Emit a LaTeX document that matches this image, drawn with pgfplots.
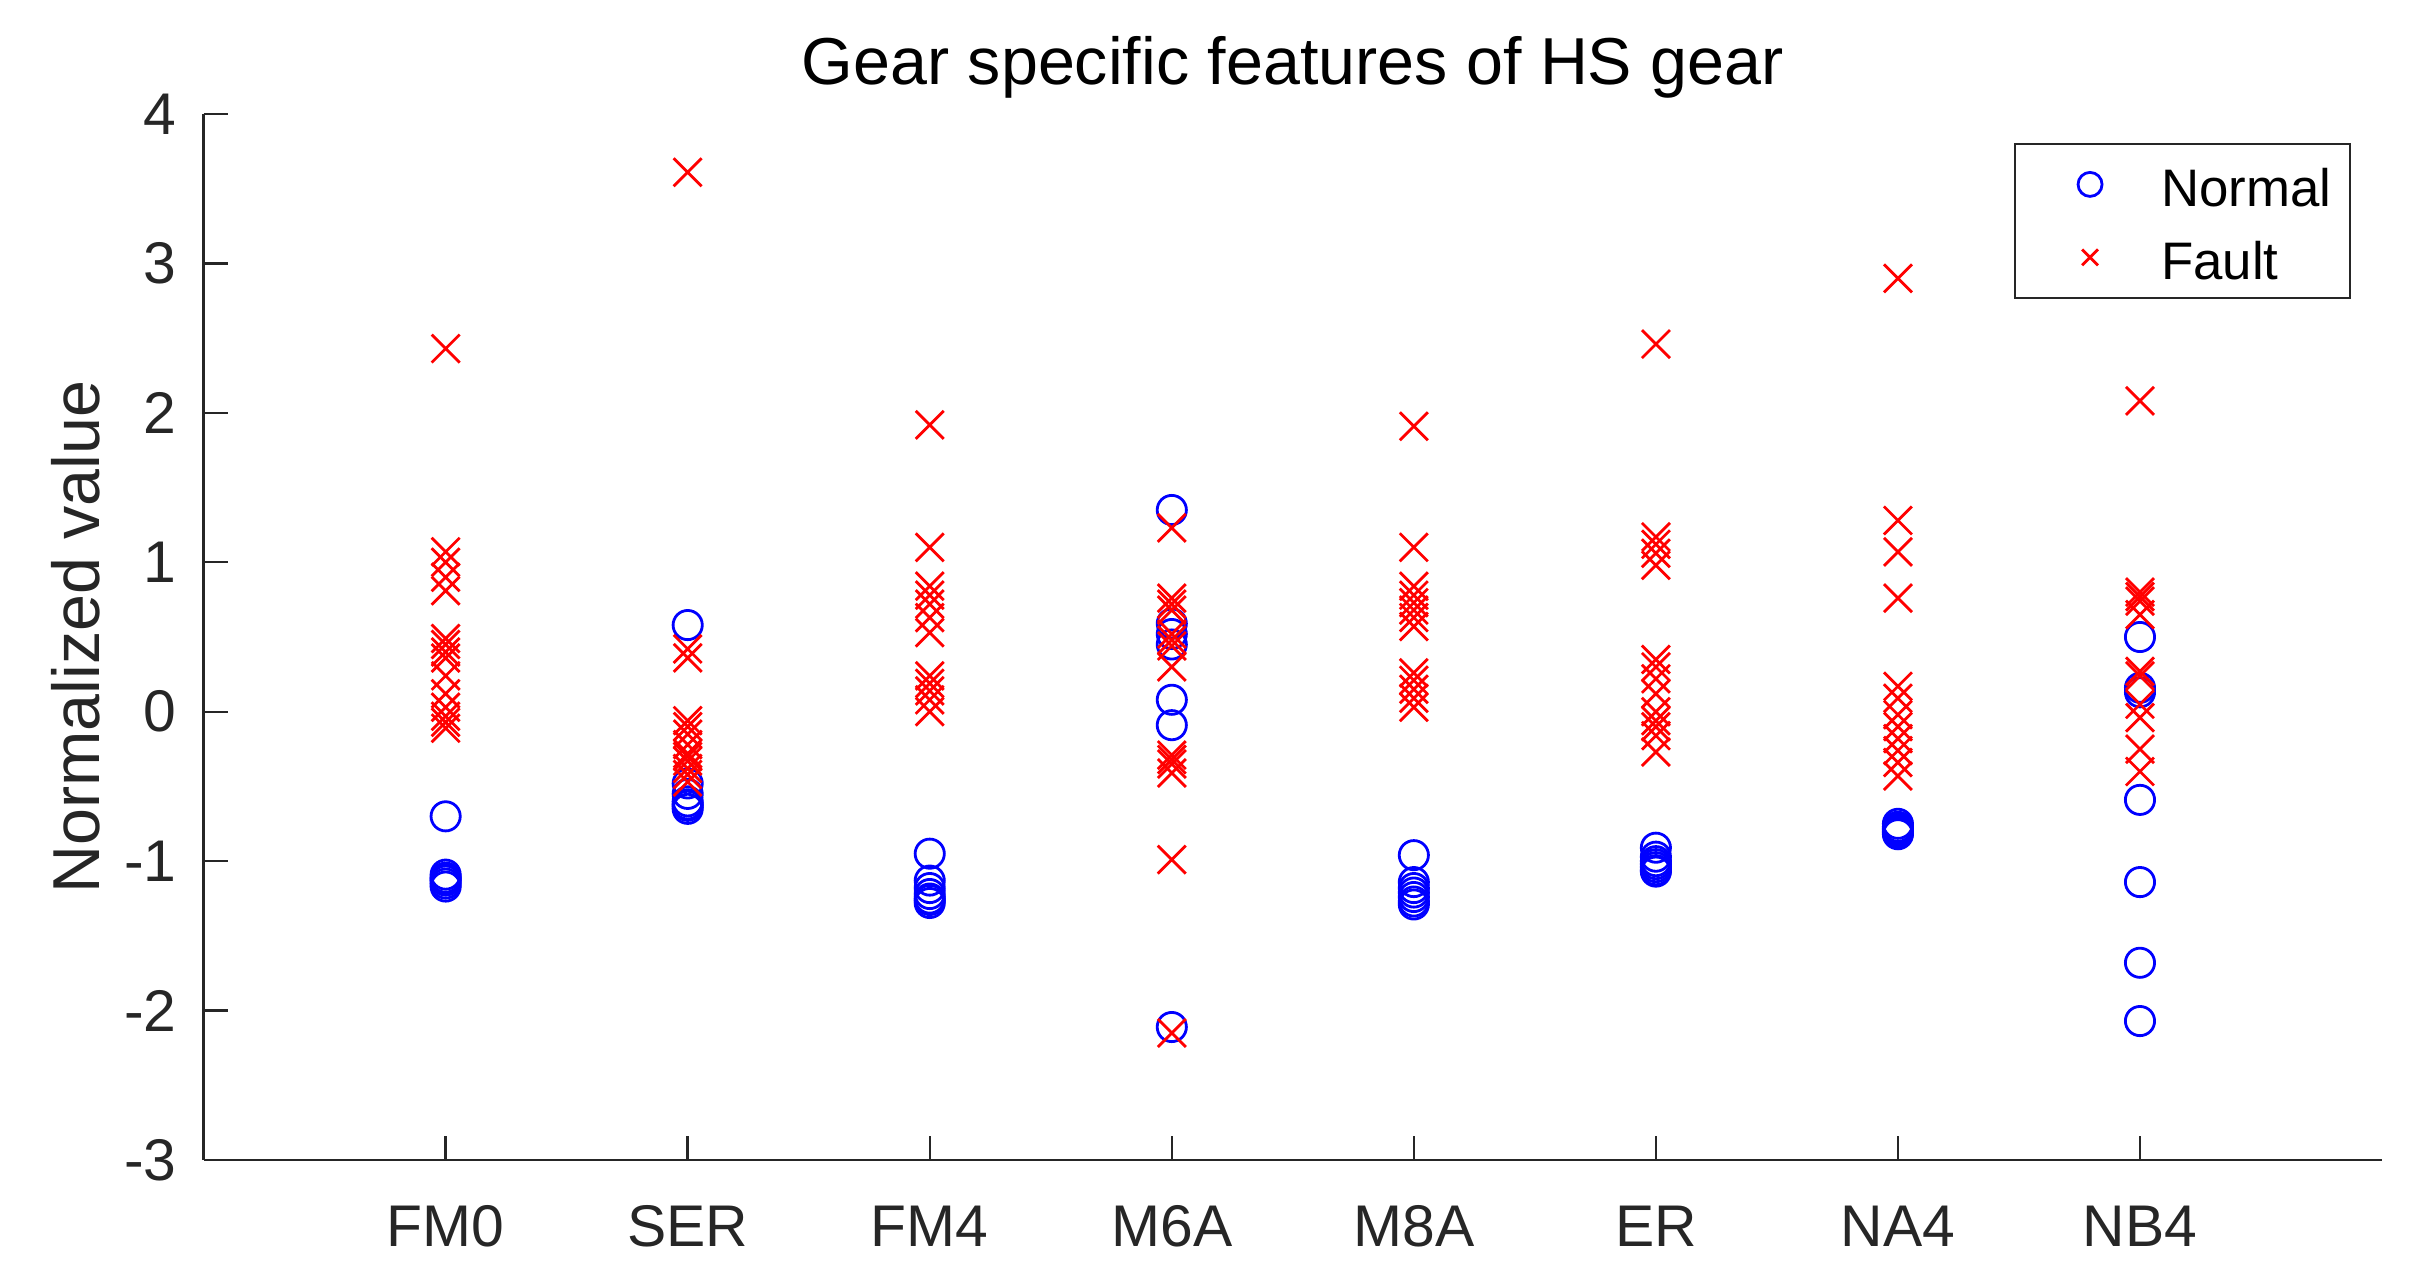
\documentclass[border=0pt]{standalone}
\usepackage{fontspec}
\setmainfont{Liberation Sans}
\usepackage{pgfplots}
\pgfplotsset{compat=1.18}
\usetikzlibrary{calc}
\definecolor{axgray}{RGB}{38,38,38}
\pgfplotsset{
  normleg/.style={legend image code/.code={\path (0pt,0pt) (20pt,0pt); \draw[##1, mark size=3.0pt] plot coordinates {(13.75pt,0pt)};}},
  faultleg/.style={legend image code/.code={\path (0pt,0pt) (20pt,0pt); \draw[##1, mark size=2.8pt] plot coordinates {(13.75pt,0pt)};}},
}

\begin{document}
\begin{tikzpicture}
\begin{axis}[
  scale only axis, width=544.6pt, height=261.5pt,
  xmin=0, xmax=9, ymin=-3, ymax=4,
  xtick={1,2,3,4,5,6,7,8},
  xticklabels={FM0,SER,FM4,M6A,M8A,ER,NA4,NB4},
  ytick={-3,-2,-1,0,1,2,3,4},
  axis x line*=bottom, axis y line*=left,
  axis line style={axgray, line width=0.6pt},
  tick style={axgray, line width=0.6pt},
  tick align=inside, major tick length=6pt,
  /pgf/number format/assume math mode=true,
  ticklabel style={font=\fontsize{14.7}{17}\selectfont, text=axgray},
  xticklabel style={anchor=base, inner sep=0pt, yshift=-21.5pt},
  yticklabel style={anchor=east, inner sep=0pt, xshift=-6.6pt},
  title={Gear specific features of HS gear},
  title style={at={(axis description cs:0.5,1)}, anchor=base, yshift=1.25pt, inner sep=0pt, font=\fontsize{16.6}{20}\selectfont},
  ylabel={Normalized value},
  ylabel style={at={(axis description cs:-0.0479,0.5)}, anchor=base, inner sep=0pt, font=\fontsize{16.6}{20}\selectfont, text=axgray},
  legend cell align=left,
  legend style={at={(axis description cs:1,1)}, anchor=north east, xshift=-7.8pt, yshift=-7.3pt,
    draw=axgray, line width=0.5pt, fill=white, inner xsep=4.6pt, inner ysep=3.55pt,
    row sep=5.25pt, column sep=11.2pt,
    nodes={inner sep=0pt, text height=12pt, text depth=1pt, font=\fontsize{13.2}{16}\selectfont}},
]
\addplot[only marks, mark=o, color=blue, mark size=3.65pt, line width=0.7pt, normleg]
  table[row sep=\\] {
x y \\
1 -0.70 \\ 1 -1.09 \\ 1 -1.11 \\ 1 -1.13 \\ 1 -1.15 \\ 1 -1.17 \\ 1 -1.12 \\
2 0.58 \\ 2 -0.48 \\ 2 -0.55 \\ 2 -0.60 \\ 2 -0.63 \\ 2 -0.65 \\ 2 -0.62 \\
3 -0.95 \\ 3 -1.13 \\ 3 -1.18 \\ 3 -1.22 \\ 3 -1.25 \\ 3 -1.28 \\ 3 -1.26 \\
4 1.35 \\ 4 0.59 \\ 4 0.52 \\ 4 0.45 \\ 4 0.08 \\ 4 -0.09 \\ 4 -2.11 \\
5 -0.96 \\ 5 -1.14 \\ 5 -1.18 \\ 5 -1.21 \\ 5 -1.24 \\ 5 -1.27 \\ 5 -1.29 \\
6 -0.91 \\ 6 -0.97 \\ 6 -1.00 \\ 6 -1.02 \\ 6 -1.04 \\ 6 -1.06 \\ 6 -1.07 \\
7 -0.75 \\ 7 -0.77 \\ 7 -0.78 \\ 7 -0.79 \\ 7 -0.80 \\ 7 -0.81 \\ 7 -0.82 \\
8 0.50 \\ 8 0.16 \\ 8 0.13 \\ 8 -0.59 \\ 8 -1.14 \\ 8 -1.68 \\ 8 -2.07 \\
};
\addlegendentry{Normal}
\addplot[only marks, mark=x, color=red, mark size=4.95pt, line width=0.7pt, faultleg]
  table[row sep=\\] {
x y \\
1 2.43 \\ 1 1.07 \\ 1 1.00 \\ 1 0.90 \\ 1 0.81 \\ 1 0.49 \\ 1 0.45 \\ 1 0.40 \\ 1 0.36 \\ 1 0.24 \\ 1 0.12 \\ 1 0.03 \\ 1 -0.03 \\ 1 -0.07 \\ 1 -0.11 \\
2 3.61 \\ 2 0.42 \\ 2 0.36 \\ 2 -0.06 \\ 2 -0.10 \\ 2 -0.15 \\ 2 -0.22 \\ 2 -0.28 \\ 2 -0.33 \\ 2 -0.38 \\ 2 -0.42 \\ 2 -0.47 \\ 2 -0.30 \\
3 1.92 \\ 3 1.10 \\ 3 0.84 \\ 3 0.78 \\ 3 0.72 \\ 3 0.63 \\ 3 0.53 \\ 3 0.24 \\ 3 0.19 \\ 3 0.14 \\ 3 0.08 \\ 3 0.00 \\
4 1.23 \\ 4 0.76 \\ 4 0.72 \\ 4 0.68 \\ 4 0.52 \\ 4 0.48 \\ 4 0.44 \\ 4 0.30 \\ 4 -0.29 \\ 4 -0.32 \\ 4 -0.35 \\ 4 -0.41 \\ 4 -0.99 \\ 4 -2.15 \\
5 1.91 \\ 5 1.10 \\ 5 0.84 \\ 5 0.78 \\ 5 0.73 \\ 5 0.68 \\ 5 0.63 \\ 5 0.57 \\ 5 0.26 \\ 5 0.21 \\ 5 0.15 \\ 5 0.09 \\ 5 0.03 \\
6 2.46 \\ 6 1.17 \\ 6 1.12 \\ 6 1.06 \\ 6 0.98 \\ 6 0.35 \\ 6 0.30 \\ 6 0.22 \\ 6 0.12 \\ 6 0.00 \\ 6 -0.06 \\ 6 -0.10 \\ 6 -0.16 \\ 6 -0.27 \\
7 2.90 \\ 7 1.28 \\ 7 1.07 \\ 7 0.76 \\ 7 0.17 \\ 7 0.09 \\ 7 -0.02 \\ 7 -0.10 \\ 7 -0.18 \\ 7 -0.26 \\ 7 -0.34 \\ 7 -0.43 \\
8 2.08 \\ 8 0.80 \\ 8 0.77 \\ 8 0.74 \\ 8 0.65 \\ 8 0.27 \\ 8 0.24 \\ 8 0.05 \\ 8 -0.04 \\ 8 -0.25 \\ 8 -0.40 \\
};
\addlegendentry{Fault}
\coordinate (ll) at (rel axis cs:0,0);
\coordinate (ur) at (rel axis cs:1,1);
\end{axis}
\pgfresetboundingbox
\path[use as bounding box] ($(ll)+(-50.9pt,-30.75pt)$) rectangle ($(ur)+(9pt,28.5pt)$);
\end{tikzpicture}
\end{document}
